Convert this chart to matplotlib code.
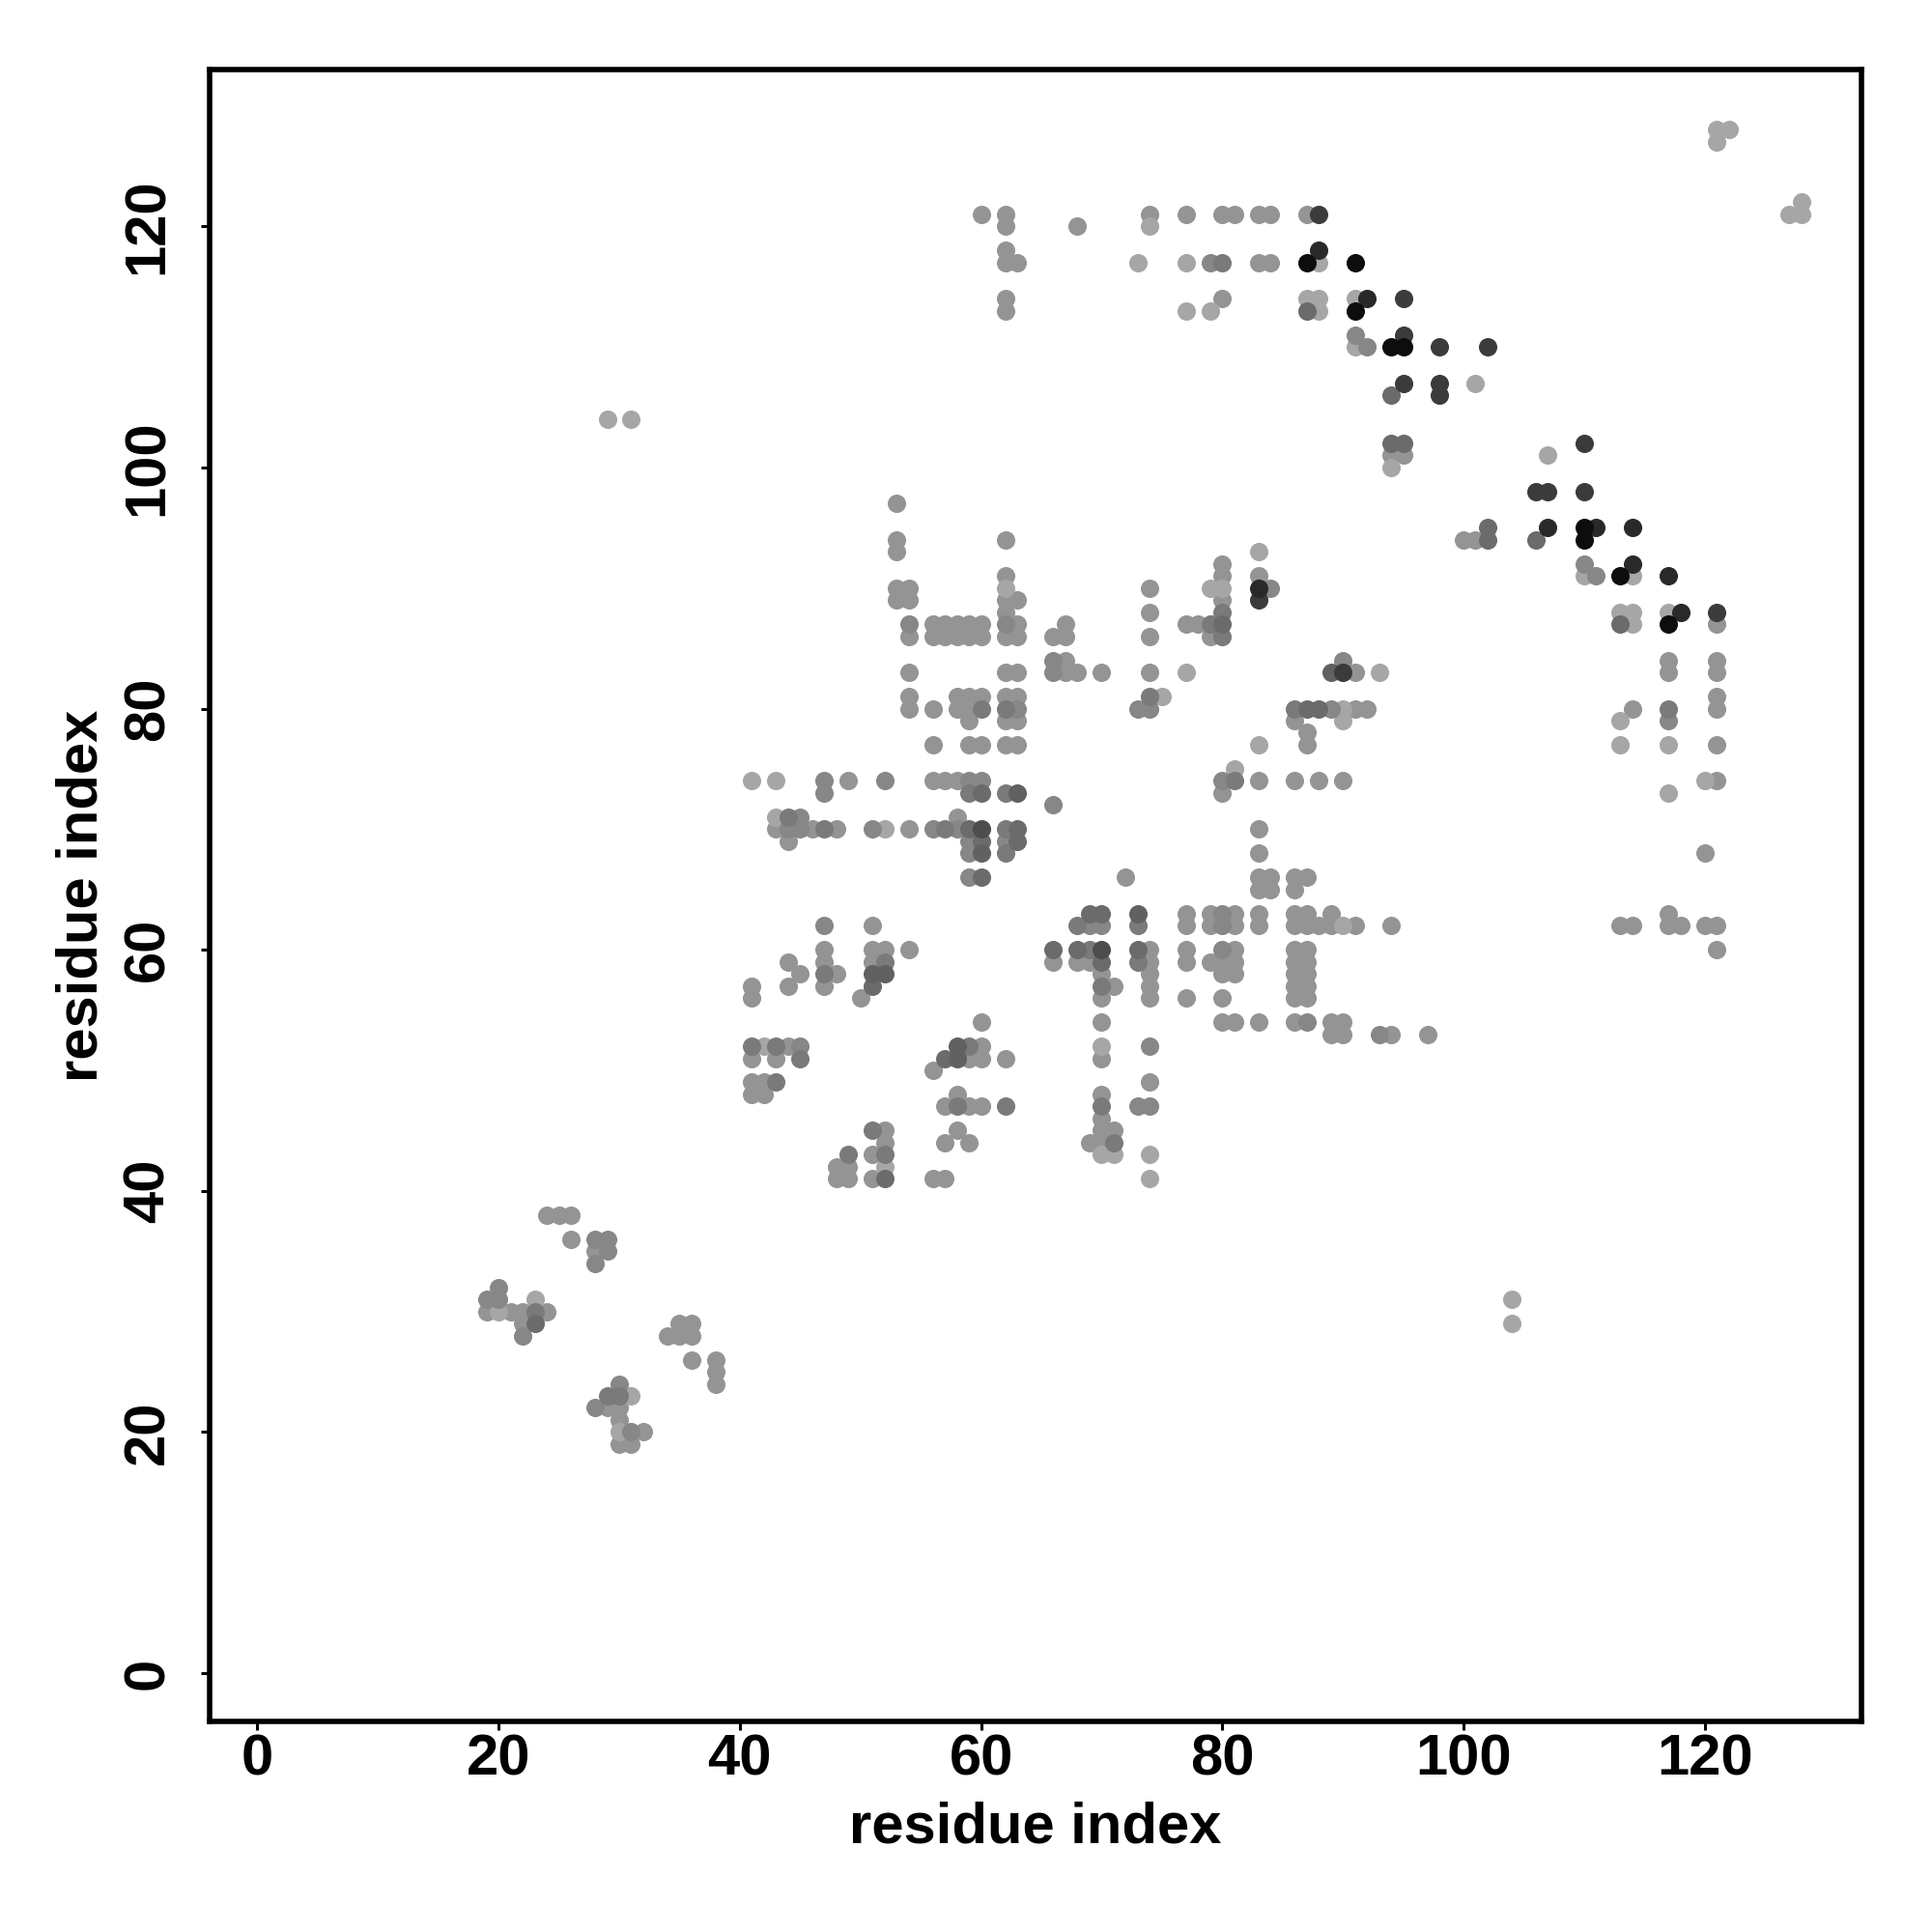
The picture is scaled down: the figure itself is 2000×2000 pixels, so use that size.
import matplotlib
matplotlib.use("Agg")
import matplotlib.pyplot as plt

plt.rcParams['font.family'] = ['Liberation Sans', 'DejaVu Sans']

x_ticks = [0, 20, 40, 60, 80, 100, 120]
y_ticks = [0, 20, 40, 60, 80, 100, 120]
x_label = "residue index"
y_label = "residue index"

# contacts (residue i, residue j), grouped by grey shade
shade_58 = [
    (60,121),(62,121),(74,121),(77,121),(80,121),(81,121),(83,121),(84,121),(87,121),
    (62,120),(68,120),(62,118),(62,117),(63,117),(83,117),(84,117),
    (62,114),(80,114),(62,113),(94,101),(95,101),(53,97),(53,94),(62,94),(100,94),(101,94),(53,93),
    (80,92),(62,91),(80,91),(83,91),(53,90),(54,90),(74,90),(53,89),(54,89),(62,89),(63,89),(80,89),
    (62,88),(74,88),(56,87),(57,87),(58,87),(59,87),(60,87),(63,87),(67,87),(77,87),(78,87),(121,87),
    (54,86),(56,86),(57,86),(58,86),(59,86),(60,86),(62,86),(63,86),(66,86),(67,86),(74,86),(79,86),
    (67,84),(117,84),(121,84),(54,83),(62,83),(63,83),(67,83),(68,83),(70,83),(74,83),(91,83),(117,83),(121,83),
    (54,81),(58,81),(59,81),(60,81),(62,81),(63,81),(121,81),(54,80),(56,80),(58,80),(59,80),(91,80),(92,80),(114,80),(121,80),
    (59,79),(62,79),(63,79),(86,79),(87,78),(56,77),(59,77),(60,77),(62,77),(63,77),(87,77),(121,77),
    (49,74),(56,74),(57,74),(58,74),(83,74),(86,74),(88,74),(90,74),(121,74),(80,73),
    (58,71),(43,70),(46,70),(48,70),(54,70),(83,70),(44,69),(83,68),(120,68),
    (72,66),(83,66),(84,66),(86,66),(87,66),(83,65),(84,65),(86,65),
    (77,63),(79,63),(81,63),(83,63),(86,63),(87,63),(89,63),(117,63),
    (51,62),(77,62),(79,62),(81,62),(83,62),(86,62),(87,62),(88,62),(89,62),(91,62),(94,62),(113,62),(114,62),(117,62),(118,62),(120,62),(121,62),
    (47,60),(51,60),(52,60),(54,60),(74,60),(77,60),(81,60),(86,60),(87,60),(121,60),
    (44,59),(47,59),(51,59),(66,59),(68,59),(69,59),(74,59),(77,59),(79,59),(80,59),(81,59),(86,59),(87,59),
    (45,58),(48,58),(70,58),(74,58),(80,58),(81,58),(86,58),(87,58),
    (41,57),(44,57),(47,57),(71,57),(74,57),(86,57),(87,57),
    (41,56),(50,56),(70,56),(74,56),(77,56),(80,56),(86,56),(87,56),
    (60,54),(70,54),(80,54),(81,54),(83,54),(86,54),(89,54),(90,54),(89,53),(90,53),(94,53),(97,53),
    (44,52),(60,52),(41,51),(43,51),(59,51),(60,51),(62,51),(70,51),(56,50),(41,49),(42,49),(74,49),
    (41,48),(42,48),(58,48),(70,48),(57,47),(59,47),(60,47),(70,46),(52,45),(58,45),(70,45),(71,45),
    (52,44),(57,44),(59,44),(69,44),(70,44),(51,43),(48,42),(49,42),(48,41),(49,41),(51,41),(56,41),(57,41),
    (24,38),(25,38),(26,38),(26,36),(28,35),(21,30),(22,30),(19,30),(24,30),(22,29),(35,29),(36,29),(34,28),(35,28),(36,28),
    (36,26),(38,26),(38,25),(38,24),(29,22),(30,22),(30,21),(32,20),(30,19),(31,19),
]
shade_65 = [
    (121,128),(122,128),(121,127),(128,122),(127,121),(128,121),(74,120),(73,117),(77,117),(88,117),
    (87,114),(88,114),(91,114),(77,113),(79,113),(88,113),(91,110),(101,107),(29,104),(31,104),(107,101),
    (94,100),(83,93),(110,91),(114,91),(62,90),(79,90),(80,90),(113,88),(114,88),(117,88),(114,87),(77,83),
    (93,83),(75,81),(90,80),(90,79),(113,79),(83,77),(113,77),(117,77),(81,75),(41,74),(43,74),(120,74),
    (117,73),(43,71),(52,70),(90,62),(42,52),(70,52),(70,43),(71,43),(74,43),(52,42),(74,41),(23,31),(20,30),
    (31,23),(30,20),(104,31),(104,29),
]
shade_54 = [
    (79,117),(91,111),(92,110),(110,92),(111,91),(84,90),(54,87),(62,87),(66,84),(90,84),(66,83),(117,79),
    (73,80),(74,80),(63,80),(89,80),(47,74),(52,74),(59,74),(60,74),(80,74),(47,73),(66,72),(45,71),(44,70),(45,70),
    (51,70),(56,70),(58,70),(59,69),(62,69),(59,68),(59,66),(69,62),(70,62),(47,62),(87,54),(93,53),(45,52),(74,52),
    (73,47),(74,47),(28,36),(29,36),(29,35),(28,34),(20,32),(19,31),(22,28),(30,24),(28,22),(31,20),(20,31),
    (80,63),(80,62),(80,60),
]
shade_48 = [
    (80,117),(80,88),(79,87),(62,80),(60,80),(74,81),(86,80),(117,80),(81,74),(44,71),(47,70),(57,70),(62,70),(62,73),(59,73),
    (62,68),(68,62),(73,62),(69,60),(52,59),(73,59),(47,58),(70,57),(41,52),(43,52),(59,52),
    (45,51),(43,49),(58,47),(62,47),(70,47),(51,45),(71,44),(49,43),(52,43),(23,30),(30,23),(29,23),(80,86),
]
shade_43 = [
    (87,113),(94,106),(94,102),(95,102),(102,95),(102,94),(106,94),(80,87),(113,87),(87,80),(88,80),
    (60,73),(63,70),(59,70),(60,69),(63,69),(60,66),(69,63),(70,63),(66,60),(68,60),(73,60),
    (70,59),(51,57),(57,51),(23,29),(52,41),
]
shade_38 = [
    (63,73),(60,68),(73,63),(51,58),(52,58),(58,52),(58,51),(89,83),
]
shade_30 = [
    (60,70),(70,60),
]
shade_23 = [
    (88,121),(121,88),(98,110),(102,110),(95,107),(98,107),(98,106),(110,102),(106,98),(107,98),(110,98),
    (90,83),(83,89),(95,111),(95,114),
]
shade_16 = [
    (83,90),(88,118),(107,95),(111,95),(114,95),(118,88),(117,91),(92,114),(114,92),
]
shade_07 = [
    (87,117),(91,117),(91,113),(94,110),(95,110),(110,95),(110,94),(113,91),(117,87),
]

all_shades = [
    (shade_58, "0.58"), (shade_65, "0.65"), (shade_54, "0.53"), (shade_48, "0.48"),
    (shade_43, "0.42"), (shade_38, "0.38"), (shade_30, "0.30"), (shade_23, "0.23"),
    (shade_16, "0.16"), (shade_07, "0.05"),
]

fig = plt.figure(figsize=(10, 10), dpi=200)
ax = fig.add_axes([216.5/2000, 1 - 1782/2000, (1927-216.5)/2000, (1782-72)/2000])

for pts, col in all_shades:
    xs, ys = zip(*pts)
    ax.scatter(xs, ys, s=47, c=col, linewidths=0, zorder=3, clip_on=False)

ax.set_xlim(-4, 133)
ax.set_ylim(-4, 133)
ax.set_xticks(x_ticks)
ax.set_yticks(y_ticks)
for s in ax.spines.values():
    s.set_linewidth(2.0)
ax.tick_params(axis='x', length=3.4, width=1.1, labelsize=21.5, pad=1)
ax.tick_params(axis='y', length=3.4, width=1.1, labelsize=21.5, pad=9.3)
for t in ax.get_xticklabels():
    t.set_fontweight('bold')
for t in ax.get_yticklabels():
    t.set_fontweight('bold')
    t.set_rotation(90)
    t.set_va('center')
ax.set_xlabel(x_label, fontsize=21.5, fontweight='bold', labelpad=5.5)
ax.set_ylabel(y_label, fontsize=21.5, fontweight='bold', labelpad=5)

fig.savefig("out.png", dpi=200)
